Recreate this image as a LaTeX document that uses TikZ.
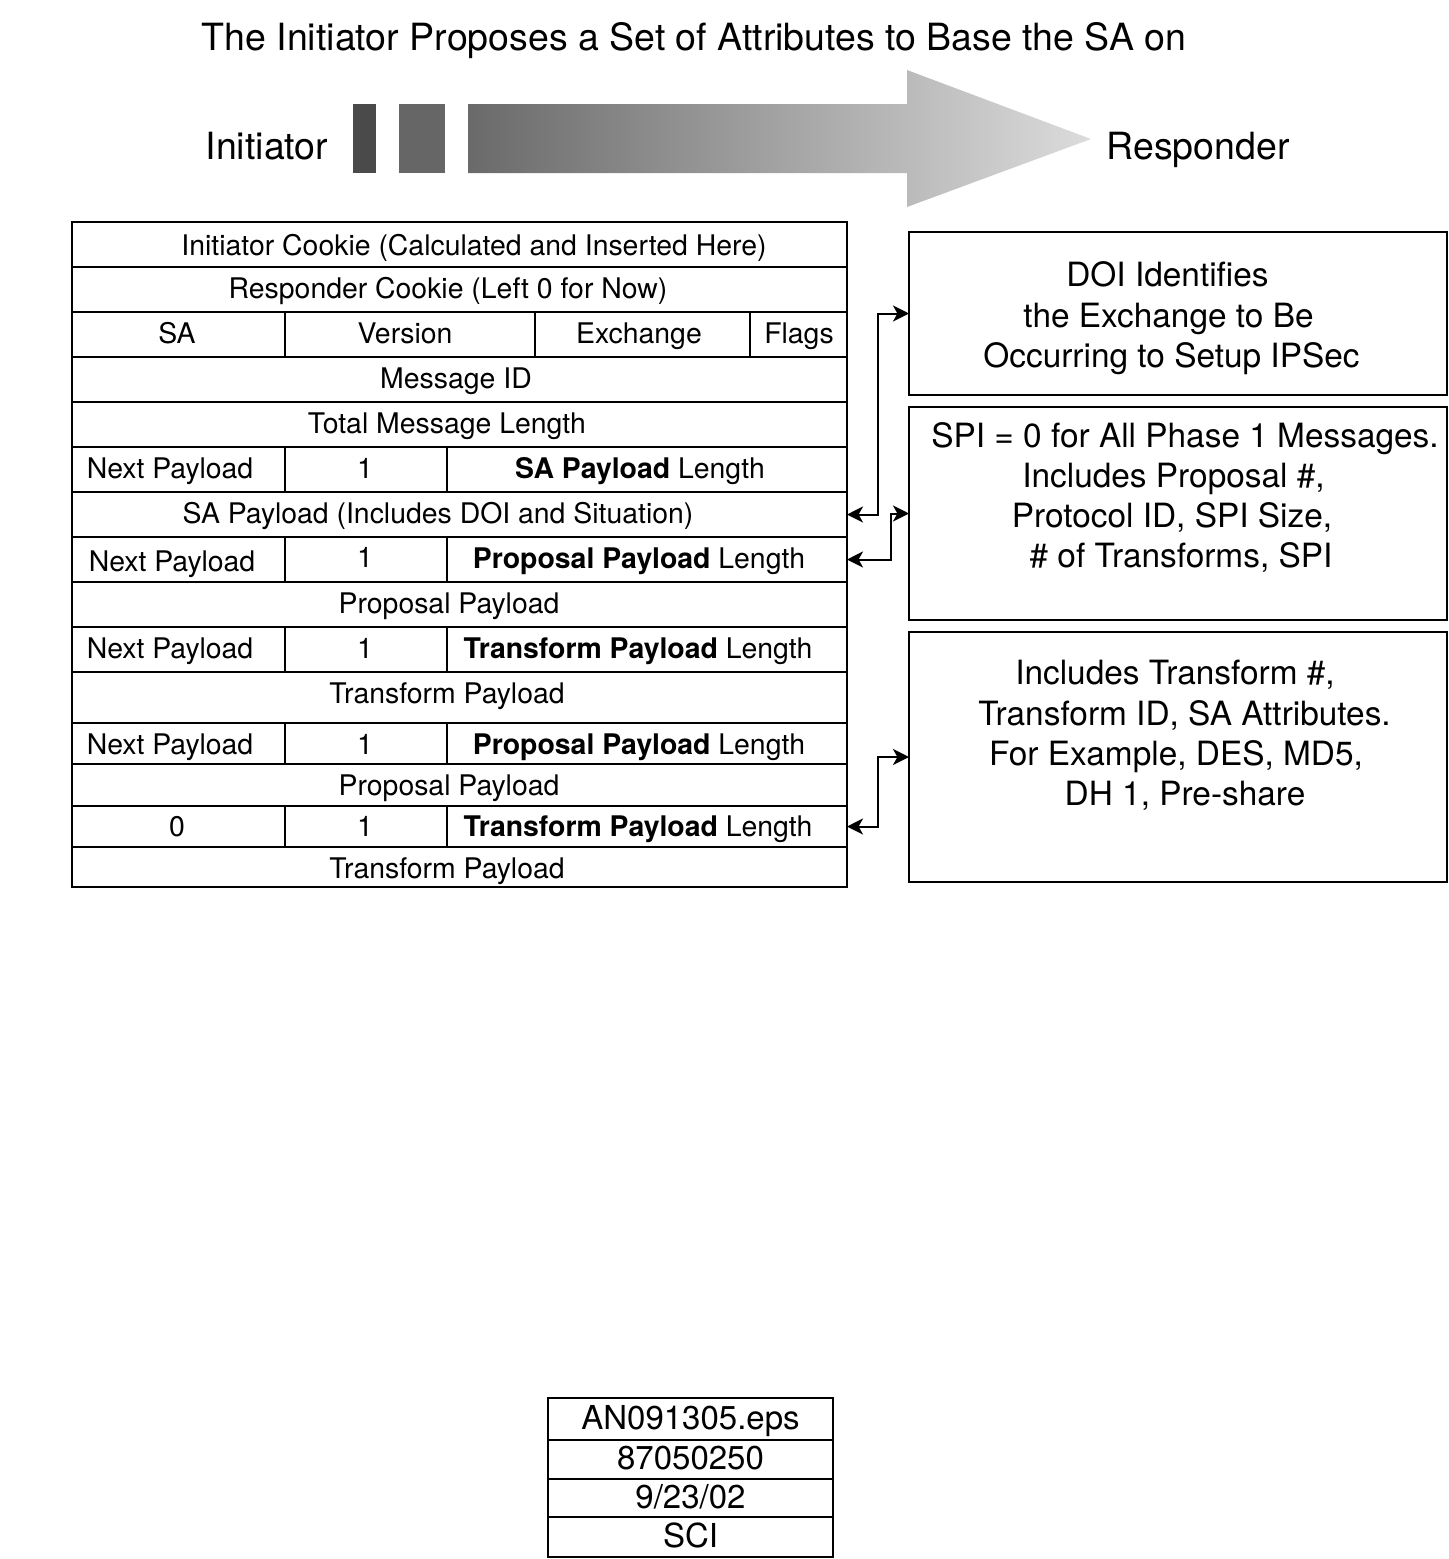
\documentclass[tikz,border=0pt]{standalone}
\usepackage{fontspec}
\setmainfont{TeX Gyre Heros}
\usetikzlibrary{arrows.meta}
\definecolor{barA}{HTML}{4A4A4A}
\definecolor{barB}{HTML}{666666}
\definecolor{shL}{HTML}{6A6A6A}
\definecolor{shR}{HTML}{DCDCDC}
\begin{document}
\begin{tikzpicture}[x=0.5pt,y=-0.5pt,
  rowbox/.style={draw, line width=1.3pt, minimum width=387.5pt, inner sep=0pt, outer sep=0pt},
  divline/.style={line width=1pt},
  cell/.style={font=\fontsize{14.2pt}{16pt}\selectfont, inner sep=0pt, text height=0.72em, text depth=0pt, yshift=-1.5pt},
  rbox/.style={draw, line width=1pt, minimum width=269pt, inner sep=0pt, outer sep=0pt},
  btxt/.style={font=\fontsize{16.7pt}{20pt}\selectfont, inner sep=0pt, text height=0.72em, text depth=0pt, yshift=-2.5pt},
  head/.style={font=\fontsize{18.75pt}{22pt}\selectfont, inner sep=0pt, text height=0.72em, text depth=0pt, yshift=-3pt},
  stamp/.style={draw, line width=0.85pt, minimum width=142.5pt, inner sep=0pt, outer sep=0pt,
    font=\fontsize{16.5pt}{20pt}\selectfont, text height=1.02em, text depth=0pt},
  conn/.style={line width=1pt, {Stealth[length=8pt,width=8pt,inset=2.2pt]}-{Stealth[length=8pt,width=8pt,inset=2.2pt]}}
]
\useasboundingbox (0,0) rectangle (1449,1559);

% heading
\node[head] (title) at (694,37) {The Initiator Proposes a Set of Attributes to Base the SA on};
\node[head] (init) at (267,146) {Initiator};
\node[head] (resp) at (1198,146) {Responder};

% big arrow
\fill[barA] (352.5,104) rectangle (376,173);
\fill[barB] (399,104) rectangle (445,173);
\shade[left color=shL, right color=shR]
  (468.5,104) -- (907,104) -- (907,70) -- (1091,139) -- (907,207) -- (907,173) -- (468.5,173) -- cycle;

% table rows
\node[rowbox, minimum height=22.5pt] (r1) at (459.5,244.5) {};
\node[rowbox, minimum height=22.5pt] (r2) at (459.5,289.5) {};
\node[rowbox, minimum height=22.5pt] (r3) at (459.5,334.5) {};
\node[rowbox, minimum height=22.5pt] (r4) at (459.5,379.5) {};
\node[rowbox, minimum height=22.5pt] (r5) at (459.5,424.5) {};
\node[rowbox, minimum height=22.5pt] (r6) at (459.5,469.5) {};
\node[rowbox, minimum height=22.5pt] (r7) at (459.5,514.5) {};
\node[rowbox, minimum height=22.5pt] (r8) at (459.5,559.5) {};
\node[rowbox, minimum height=22.5pt] (r9) at (459.5,604.5) {};
\node[rowbox, minimum height=22.5pt] (r10) at (459.5,649.5) {};
\node[rowbox, minimum height=25.5pt] (r11) at (459.5,697.5) {};
\node[rowbox, minimum height=20.5pt] (r12) at (459.5,743.5) {};
\node[rowbox, minimum height=21pt] (r13) at (459.5,785) {};
\node[rowbox, minimum height=20.5pt] (r14) at (459.5,826.5) {};
\node[rowbox, minimum height=20pt] (r15) at (459.5,867) {};

% vertical dividers
\draw[divline] (285,312) -- (285,357);
\draw[divline] (534.5,312) -- (534.5,357);
\draw[divline] (750,312) -- (750,357);
\foreach \t/\b in {447/492, 537/582, 627/672, 723/764, 806/847}{
  \draw[divline] (285,\t) -- (285,\b);
  \draw[divline] (447,\t) -- (447,\b);
}

% table texts
\node[cell] (c1) at (474,245) {Initiator Cookie (Calculated and Inserted Here)};
\node[cell] (c2) at (448,288) {Responder Cookie (Left 0 for Now)};
\node[cell] (c3a) at (177,333) {SA};
\node[cell] (c3b) at (405,333) {Version};
\node[cell] (c3c) at (639,333) {Exchange};
\node[cell] (c3d) at (799,333) {Flags};
\node[cell] (c4) at (456,378) {Message ID};
\node[cell] (c5) at (447,423) {Total Message Length};
\node[cell] (c6a) at (170,468) {Next Payload};
\node[cell] (c6b) at (365,468) {1};
\node[cell] (c6c) at (640,468) {\textbf{SA Payload} Length};
\node[cell] (c7) at (438,513) {SA Payload (Includes DOI and Situation)};
\node[cell] (c8a) at (172,561) {Next Payload};
\node[cell] (c8b) at (365,557) {1};
\node[cell] (c8c) at (639,558) {\textbf{Proposal Payload} Length};
\node[cell] (c9) at (449,603) {Proposal Payload};
\node[cell] (c10a) at (170,648) {Next Payload};
\node[cell] (c10b) at (365,648) {1};
\node[cell] (c10c) at (638,648) {\textbf{Transform Payload} Length};
\node[cell] (c11) at (447,693) {Transform Payload};
\node[cell] (c12a) at (170,744) {Next Payload};
\node[cell] (c12b) at (365,744) {1};
\node[cell] (c12c) at (639,744) {\textbf{Proposal Payload} Length};
\node[cell] (c13) at (449,785) {Proposal Payload};
\node[cell] (c14a) at (177,826) {0};
\node[cell] (c14b) at (365,826) {1};
\node[cell] (c14c) at (638,826) {\textbf{Transform Payload} Length};
\node[cell] (c15) at (447,868) {Transform Payload};

% right boxes
\node[rbox, minimum height=81.5pt] (b1) at (1178,313.5) {};
\node[rbox, minimum height=106.5pt] (b2) at (1178,513.5) {};
\node[rbox, minimum height=125pt] (b3) at (1178,757) {};

\node[btxt] (b1l1) at (1167.5,274) {DOI Identifies};
\node[btxt] (b1l2) at (1168.5,315) {the Exchange to Be};
\node[btxt] (b1l3) at (1171.5,355) {Occurring to Setup IPSec};

\node[btxt] (b2l1) at (1185,435) {SPI = 0 for All Phase 1 Messages.};
\node[btxt] (b2l2) at (1173.5,475) {Includes Proposal \#,};
\node[btxt] (b2l3) at (1172,515) {Protocol ID, SPI Size,};
\node[btxt] (b2l4) at (1181,555) {\# of Transforms, SPI};

\node[btxt] (b3l1) at (1175,672) {Includes Transform \#,};
\node[btxt] (b3l2) at (1184.5,713) {Transform ID, SA Attributes.};
\node[btxt] (b3l3) at (1176,753) {For Example, DES, MD5,};
\node[btxt] (b3l4) at (1185,793) {DH 1, Pre-share};

% connectors
\draw[conn] (r7.east) -- ++(31,0) |- (b1.west);
\draw[conn] (r8.east) -- ++(44,0) |- (b2.west);
\draw[conn] (r14.east) -- ++(31,0) |- (b3.west);

% stamp
\node[stamp, minimum height=21pt] (s1) at (690.5,1419) {AN091305.eps};
\node[stamp, minimum height=19.5pt] (s2) at (690.5,1459.5) {87050250};
\node[stamp, minimum height=19pt] (s3) at (690.5,1498) {9/23/02};
\node[stamp, minimum height=20pt] (s4) at (690.5,1537) {SCI};
\end{tikzpicture}
\end{document}
